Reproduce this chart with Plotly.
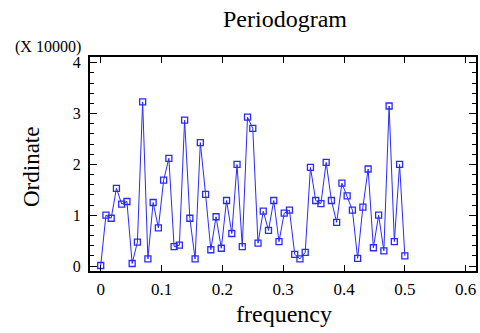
import plotly.graph_objects as go

# Periodogram ordinates (in units of 10000), frequencies k/116, k = 0..58
n_obs = 116
ordinate = [
    0.01, 1.00, 0.94, 1.53, 1.22, 1.27, 0.05, 0.47, 3.23, 0.14,
    1.25, 0.75, 1.69, 2.12, 0.38, 0.41, 2.87, 0.94, 0.14, 2.43,
    1.41, 0.32, 0.97, 0.35, 1.29, 0.64, 2.00, 0.38, 2.93, 2.71,
    0.45, 1.08, 0.70, 1.29, 0.48, 1.04, 1.10, 0.23, 0.14, 0.27,
    1.94, 1.29, 1.23, 2.04, 1.29, 0.86, 1.63, 1.38, 1.10, 0.15,
    1.16, 1.91, 0.36, 1.00, 0.30, 3.15, 0.48, 2.00, 0.20,
]
frequency = [k / n_obs for k in range(len(ordinate))]

x_ticks = [0, 0.1, 0.2, 0.3, 0.4, 0.5, 0.6]
y_ticks = [0, 1, 2, 3, 4]

W, H = 480, 333
L, R, T, B = 90, 476, 57, 271


def px(x):
    return (x - L) / (R - L)


def py(y):
    return (B - y) / (B - T)


font = "Liberation Serif, Times New Roman, serif"
blue = "#2a2aff"

fig = go.Figure()
fig.add_trace(go.Scatter(
    x=frequency, y=ordinate, mode="lines+markers",
    line=dict(color=blue, width=1),
    marker=dict(symbol="square-open", size=6, color=blue, line=dict(width=1.3, color=blue)),
    showlegend=False, hoverinfo="skip",
))

fig.update_layout(
    width=W, height=H,
    margin=dict(l=L, r=W - R, t=T, b=H - B, pad=0, autoexpand=False),
    paper_bgcolor="white", plot_bgcolor="white",
    font=dict(family=font, color="black", size=16),
    xaxis=dict(
        range=[-0.0176, 0.617], tickvals=x_ticks, ticktext=[str(v) for v in x_ticks],
        ticks="inside", ticklen=6, tickwidth=1, tickcolor="black",
        showline=True, linecolor="black", linewidth=2, mirror="allticks",
        showgrid=False, zeroline=False,
        tickfont=dict(family=font, size=17), ticklabelstandoff=2,
    ),
    yaxis=dict(
        range=[-0.098, 4.114], tickvals=y_ticks,
        ticks="inside", ticklen=7, tickwidth=1, tickcolor="black",
        minor=dict(dtick=0.2, ticks="inside", ticklen=4, tickcolor="black", tickwidth=1, showgrid=False),
        showline=True, linecolor="black", linewidth=2, mirror="allticks",
        showgrid=False, zeroline=False,
        tickfont=dict(family=font, size=16), ticklabelstandoff=4,
    ),
    annotations=[
        dict(text="Periodogram", x=px(285), y=py(19), xref="paper", yref="paper",
             showarrow=False, font=dict(family=font, size=24), xanchor="center", yanchor="middle"),
        dict(text="(X 10000)", x=px(48), y=py(47), xref="paper", yref="paper",
             showarrow=False, font=dict(family=font, size=16), xanchor="center", yanchor="middle"),
        dict(text="frequency", x=px(284), y=py(314), xref="paper", yref="paper",
             showarrow=False, font=dict(family=font, size=24), xanchor="center", yanchor="middle"),
        dict(text="Ordinate", x=px(31), y=py(167), xref="paper", yref="paper", textangle=-90,
             showarrow=False, font=dict(family=font, size=23), xanchor="center", yanchor="middle"),
    ],
)

fig.write_html(
    "out.html",
    config={"displayModeBar": False, "staticPlot": True},
    post_script="document.body.style.margin='0';document.body.style.overflow='hidden';",
)
